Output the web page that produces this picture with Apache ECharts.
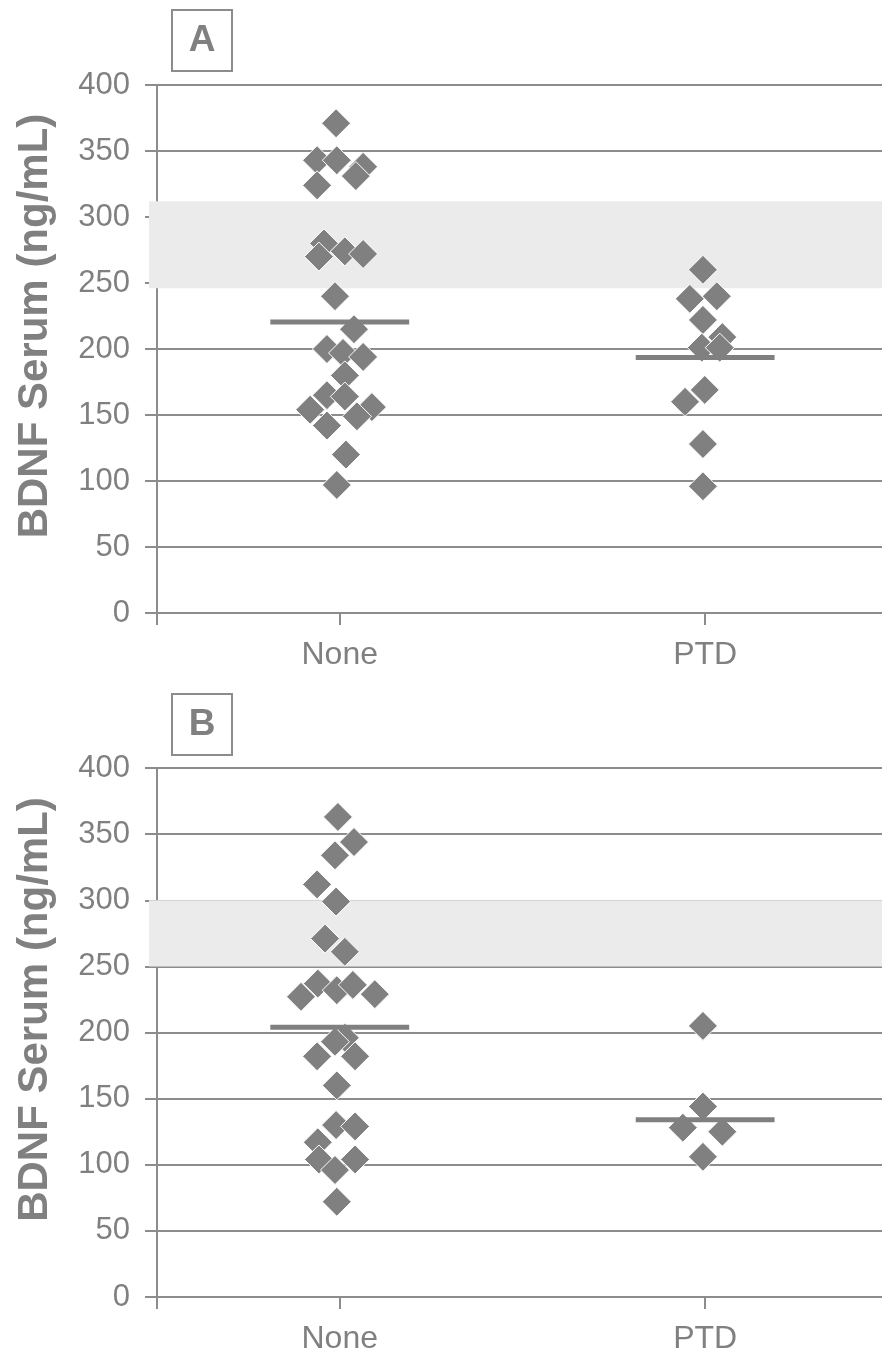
<!DOCTYPE html>
<html>
<head>
<meta charset="utf-8">
<script src="https://cdn.jsdelivr.net/npm/echarts@6/dist/echarts.min.js"></script>
<style>
  html, body { margin: 0; padding: 0; background: #fff; }
  #chart { width: 882px; height: 1355px; }
</style>
</head>
<body>
<div id="chart"></div>
<script>
// groups on the x axis (None at 0.5, PTD at 1.5)
var groups = ['None', 'PTD'];

// Panel A - x is the jittered position
var aNoneX = [0.490, 0.438, 0.492, 0.564, 0.544, 0.438, 0.457, 0.443, 0.514, 0.564, 0.487, 0.539,
              0.465, 0.509, 0.564, 0.514, 0.465, 0.514, 0.419, 0.588, 0.465, 0.547, 0.517, 0.492];
var aNoneY = [371, 343, 343, 338, 331, 324, 280, 270, 274, 272, 240, 215,
              200, 197, 194, 180, 165, 164, 154, 156, 142, 149, 120, 97];
var aPtdX = [1.494, 1.458, 1.532, 1.494, 1.547, 1.491, 1.540, 1.499, 1.445, 1.494, 1.494];
var aPtdY = [260, 238, 240, 222, 209, 201, 201, 169, 160, 128, 96];
var aMeans = [220.5, 193.5];
var aBand = [246, 312];

// Panel B
var bNoneX = [0.495, 0.539, 0.487, 0.438, 0.490, 0.460, 0.514, 0.394, 0.440, 0.492, 0.536, 0.596,
              0.514, 0.487, 0.438, 0.542, 0.492, 0.490, 0.542, 0.440, 0.443, 0.542, 0.487, 0.492];
var bNoneY = [363, 344, 334, 312, 299, 271, 261, 227, 237, 232, 236, 229,
              196, 193, 182, 182, 160, 130, 129, 117, 104, 104, 96, 72];
var bPtdX = [1.494, 1.494, 1.439, 1.547, 1.494];
var bPtdY = [205, 144, 128, 125, 106];
var bMeans = [204, 134];
var bBand = [250, 300];

var GREY = '#808080';
var LINE = '#8c8c8c';
var FONT = '"Liberation Sans", Arial, sans-serif';
var HALF = 0.19; // half width of mean bar, in category units

function pairs(xs, ys) {
  return xs.map(function (x, i) { return [x, ys[i]]; });
}

// the plot runs past the right edge of the picture, so the axis stops short of 2
function xAxisFor(i) {
  return {
    gridIndex: i, type: 'value', min: -0.022, max: 1.984,
    axisLine: { lineStyle: { color: LINE, width: 2 } },
    axisTick: { customValues: [0, 0.5, 1.5], length: 12, lineStyle: { color: LINE, width: 2 } },
    axisLabel: {
      customValues: [0.5, 1.5], margin: 26, fontSize: 32, color: GREY, fontFamily: FONT,
      formatter: function (v) { return groups[Math.round(v - 0.5)]; }
    },
    splitLine: { show: false }
  };
}

function yAxisFor(i) {
  return {
    gridIndex: i, type: 'value', min: 0, max: 400, interval: 50,
    axisLine: { show: true, lineStyle: { color: LINE, width: 2 } },
    axisTick: { show: true, length: 12, lineStyle: { color: LINE, width: 2 } },
    axisLabel: { fontSize: 31, color: GREY, margin: 19, fontFamily: FONT },
    splitLine: { lineStyle: { color: LINE, width: 2 } },
    name: 'BDNF Serum (ng/mL)', nameLocation: 'middle', nameGap: 93,
    nameTextStyle: { fontSize: 42, fontWeight: 'bold', color: GREY, fontFamily: FONT, padding: [0, 0, 0, 46] }
  };
}

function panelSeries(i, noneX, noneY, ptdX, ptdY, means, band) {
  var out = [];
  out.push({
    type: 'scatter', xAxisIndex: i, yAxisIndex: i, data: [], z: -1, silent: true,
    markArea: { silent: true, itemStyle: { color: '#ebebeb' }, data: [[{ yAxis: band[0] }, { yAxis: band[1] }]] }
  });
  [[noneX, noneY], [ptdX, ptdY]].forEach(function (g) {
    out.push({
      type: 'scatter', xAxisIndex: i, yAxisIndex: i, data: pairs(g[0], g[1]),
      symbol: 'diamond', symbolSize: 29,
      itemStyle: { color: GREY, borderColor: '#fff', borderWidth: 1, opacity: 1 }
    });
  });
  means.forEach(function (m, k) {
    var c = k + 0.5;
    out.push({
      type: 'line', xAxisIndex: i, yAxisIndex: i, data: [[c - HALF, m], [c + HALF, m]],
      symbol: 'none', z: 4, lineStyle: { color: GREY, width: 5 }
    });
  });
  return out;
}

function panelLabel(text, top) {
  return {
    type: 'rect', shape: { x: 172, y: top, width: 60, height: 61 },
    style: { fill: '#fff', stroke: LINE, lineWidth: 2 },
    textContent: { style: { text: text, fontSize: 37, fontWeight: 'bold', fill: GREY, fontFamily: FONT } },
    textConfig: { position: 'inside' }
  };
}

var chart = echarts.init(document.getElementById('chart'));
chart.setOption({
  animation: false,
  backgroundColor: '#fff',
  grid: [
    { left: 149, top: 85, right: 0, height: 528 },
    { left: 149, top: 768, right: 0, height: 529 }
  ],
  xAxis: [xAxisFor(0), xAxisFor(1)],
  yAxis: [yAxisFor(0), yAxisFor(1)],
  graphic: [panelLabel('A', 10), panelLabel('B', 694)],
  series: panelSeries(0, aNoneX, aNoneY, aPtdX, aPtdY, aMeans, aBand)
    .concat(panelSeries(1, bNoneX, bNoneY, bPtdX, bPtdY, bMeans, bBand))
});
</script>
</body>
</html>
